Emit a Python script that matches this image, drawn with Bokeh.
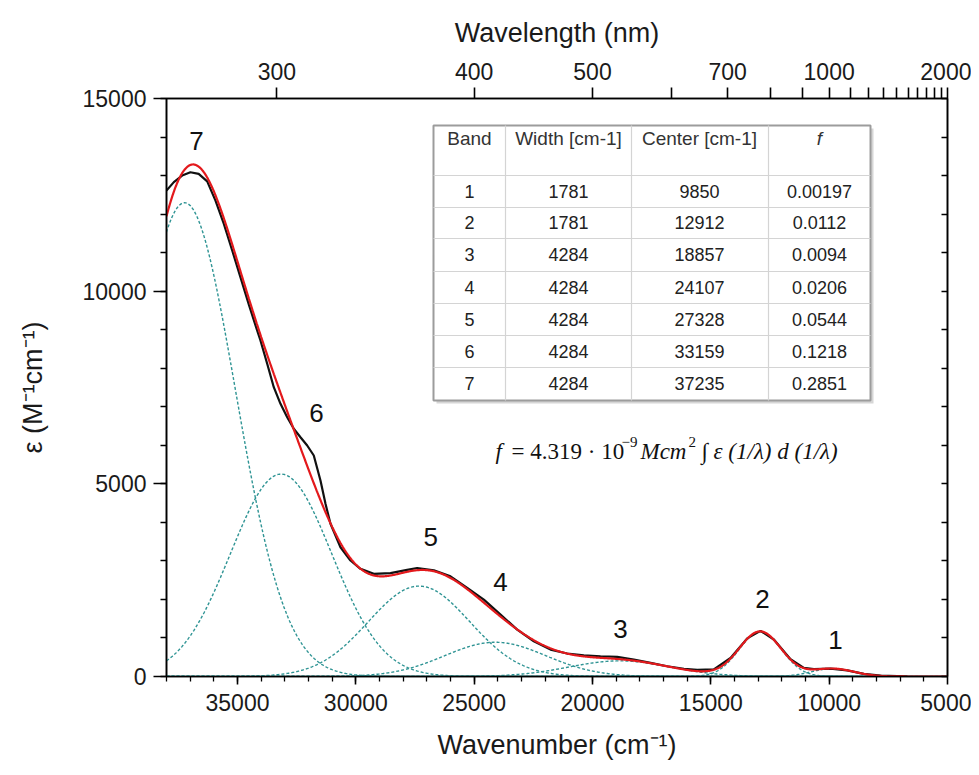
import numpy as np
from bokeh.plotting import figure
from bokeh.models import Range1d, LinearAxis, FixedTicker, Label
from bokeh.embed import file_html
from bokeh.resources import INLINE
from bokeh.core.properties import value

# ---------------- data ----------------
band_no = [1, 2, 3, 4, 5, 6, 7]
band_width = [1781, 1781, 4284, 4284, 4284, 4284, 4284]
band_center = [9850, 12912, 18857, 24107, 27328, 33159, 37235]
band_f = [0.00197, 0.0112, 0.0094, 0.0206, 0.0544, 0.1218, 0.2851]
band_f_text = ["0.00197", "0.0112", "0.0094", "0.0206", "0.0544", "0.1218", "0.2851"]
F_CONST = 4.319e-9  # f = 4.319e-9 * integral(eps d nu)

meas_wn = [38000, 37690, 37340, 36990, 36640, 36280, 35930, 35580, 35220, 34870,
           34520, 34170, 34030, 33745, 33467, 33183, 32900, 32622, 32339, 32055,
           31777, 31494, 31282, 31071, 30649, 30227, 29804, 29241, 28536, 27830,
           27408, 26704, 26000, 25293, 24592, 23886, 23182, 22479, 21774, 21070,
           20366, 19661, 18957, 18253, 17548, 16843, 16140, 15575, 14873, 14167,
           13462, 12900, 12338, 11633, 11070, 10648, 9942, 9236, 8535, 7828,
           7125, 6700]
meas_eps = [12610, 12830, 13000, 13087, 13045, 12850, 12350, 11750, 11050, 10350,
            9650, 8980, 8720, 8115, 7508, 7077, 6729, 6428, 6210, 5995,
            5735, 5086, 4482, 3963, 3355, 3010, 2795, 2665, 2681, 2769,
            2816, 2754, 2599, 2298, 1995, 1606, 1218, 915, 699, 596,
            552, 526, 510, 440, 355, 267, 199, 170, 185, 480,
            990, 1185, 960, 450, 225, 195, 205, 160, 69, 26,
            10, 0]

peak_labels = ["7", "6", "5", "4", "3", "2", "1"]
peak_label_wn = [36730, 31660, 26840, 23890, 18820, 12820, 9730]
peak_label_eps = [13900, 6840, 3630, 2440, 1220, 2000, 960]

x_ticks = [35000, 30000, 25000, 20000, 15000, 10000, 5000]
x_minor = list(range(6000, 38001, 1000))
y_ticks = [0, 5000, 10000, 15000]
y_minor = list(range(0, 15001, 1000))
nm_ticks = [300, 400, 500, 600, 700, 800, 900, 1000, 1100, 1200, 1300, 1400,
            1500, 1600, 1700, 1800, 1900, 2000]
nm_labeled = [300, 400, 500, 700, 1000, 2000]

X0, X1 = 38000, 5000
Y0, Y1 = 0, 15000

# ---------------- model components (from table) ----------------
wn = np.linspace(X0, X1, 1651)
components = []
for w, c, f in zip(band_width, band_center, band_f):
    area = f / F_CONST
    height = area / (w * np.sqrt(np.pi / 2))
    components.append(height * np.exp(-2 * ((wn - c) / w) ** 2))
fit = np.sum(components, axis=0)

# ---------------- figure ----------------
FL, FT, FW, FH = 166, 98, 781, 578  # frame placement in the picture (px)

def dx(px):
    return X0 + (px - FL) / FW * (X1 - X0)

def dy(py):
    return Y1 - (py - FT) / FH * (Y1 - Y0)

p = figure(frame_width=FW, frame_height=FH,
           x_range=Range1d(X0, X1), y_range=Range1d(Y0, Y1),
           output_backend="svg", toolbar_location=None,
           x_axis_location=None, y_axis_location=None,
           min_border_left=FL, min_border_top=FT,
           min_border_right=24, min_border_bottom=91)
p.grid.visible = False
p.outline_line_color = "black"
p.outline_line_width = 1.5
p.background_fill_color = "white"
p.border_fill_color = "white"

FONT = "Liberation Sans"

def style_axis(ax):
    ax.axis_line_color = "black"
    ax.axis_line_width = 1.6
    ax.major_tick_line_color = "black"
    ax.major_tick_line_width = 1.6
    ax.minor_tick_line_color = "black"
    ax.minor_tick_line_width = 1.3
    ax.major_label_text_font = FONT
    ax.major_label_text_font_size = "23px"
    ax.major_label_text_color = "#1a1a1a"
    ax.axis_label_text_font = FONT
    ax.axis_label_text_font_size = "27px"
    ax.axis_label_text_font_style = "normal"
    ax.axis_label_text_color = "#1a1a1a"

# bottom axis
xb = LinearAxis(ticker=FixedTicker(ticks=x_ticks, minor_ticks=x_minor),
                axis_label="Wavenumber (cm\u207b\u00b9)")
style_axis(xb)
xb.major_tick_out = 8
xb.major_tick_in = 0
xb.minor_tick_out = 5
xb.minor_tick_in = 0
xb.major_label_standoff = 9
xb.axis_label_standoff = 16
p.add_layout(xb, "below")

# left axis
yl = LinearAxis(ticker=FixedTicker(ticks=y_ticks, minor_ticks=y_minor),
                axis_label="\u03b5 (M\u207b\u00b9cm\u207b\u00b9)")
style_axis(yl)
yl.major_tick_out = 13
yl.major_tick_in = 0
yl.minor_tick_out = 6
yl.minor_tick_in = 0
yl.major_label_standoff = 7
yl.axis_label_standoff = 32
p.add_layout(yl, "left")

# top axis (wavelength)
top_pos = [int(round(1e7 / nm)) for nm in nm_ticks]
xt = LinearAxis(ticker=FixedTicker(ticks=top_pos, minor_ticks=[]),
                axis_label="Wavelength (nm)")
style_axis(xt)
xt.major_tick_out = 11
xt.major_tick_in = 0
xt.minor_tick_out = 0
xt.major_label_standoff = 8
xt.axis_label_standoff = 12
xt.major_label_overrides = {pos: (str(nm) if nm in nm_labeled else "")
                            for pos, nm in zip(top_pos, nm_ticks)}
p.add_layout(xt, "above")

# right axis (ticks only)
yr = LinearAxis(ticker=FixedTicker(ticks=y_minor, minor_ticks=[]))
style_axis(yr)
yr.major_tick_in = 6
yr.major_tick_out = 0
yr.minor_tick_in = 0
yr.minor_tick_out = 0
yr.major_label_overrides = {t: "" for t in y_minor}
yr.major_label_text_font_size = "1px"
p.add_layout(yr, "right")

# ---------------- curves ----------------
TEAL = "#2f9494"
for comp in components:
    p.line(wn, comp, line_color=TEAL, line_width=1.4, line_dash="3 2")
p.line(meas_wn, meas_eps, line_color="#111111", line_width=2.2)
p.line(wn, fit, line_color="#e3191c", line_width=2.2)

p.text(x=peak_label_wn, y=peak_label_eps, text=peak_labels,
       text_font=value(FONT), text_font_size="26px", text_color="#111111",
       text_align="center", text_baseline="middle")

# ---------------- table ----------------
TL, TR, TT, TB = 433, 870, 125, 400
p.quad(left=dx(TL + 3), right=dx(TR + 3), top=dy(TT + 3), bottom=dy(TB + 3),
       fill_color="#d6d6d6", line_color=None)
p.quad(left=dx(TL), right=dx(TR), top=dy(TT), bottom=dy(TB),
       fill_color="white", line_color="#9c9c9c", line_width=2)
row_lines = [175, 207, 238, 271, 303, 335, 367]
col_lines = [505, 631, 768]
p.segment(x0=[dx(TL)] * len(row_lines), x1=[dx(TR)] * len(row_lines),
          y0=[dy(r) for r in row_lines], y1=[dy(r) for r in row_lines],
          line_color="#d4d4d4", line_width=1.2)
p.segment(x0=[dx(c) for c in col_lines], x1=[dx(c) for c in col_lines],
          y0=[dy(TT)] * len(col_lines), y1=[dy(TB)] * len(col_lines),
          line_color="#d4d4d4", line_width=1.2)

col_centers = [469, 568, 699, 819]
headers = ["Band", "Width [cm-1]", "Center [cm-1]"]
p.text(x=[dx(c) for c in col_centers[:3]], y=[dy(138)] * 3, text=headers,
       text_font=value(FONT), text_font_size="19px", text_color="#333333",
       text_align="center", text_baseline="middle")
p.text(x=[dx(col_centers[3])], y=[dy(138)], text=["f"],
       text_font=value(FONT), text_font_size="19px", text_color="#333333",
       text_font_style="italic", text_align="center", text_baseline="middle")
row_centers = [191, 222, 254, 287, 319, 351, 383]
cols = [[str(b) for b in band_no], [str(w) for w in band_width],
        [str(c) for c in band_center], band_f_text]
for cx, col in zip(col_centers, cols):
    p.text(x=[dx(cx)] * len(col), y=[dy(r) for r in row_centers], text=col,
           text_font=value(FONT), text_font_size="18px", text_color="#222222",
           text_align="center", text_baseline="middle")

# ---------------- formula ----------------
SERIF = "Liberation Serif"
def add_label(px, py, txt, size, style="normal"):
    p.add_layout(Label(x=dx(px), y=dy(py), text=txt, text_font=SERIF,
                       text_font_size=size, text_font_style=style,
                       text_color="#111111", text_baseline="middle",
                       text_align="left"))

add_label(495, 451, "f", "23px", "italic")
add_label(511, 451, "= 4.319 \u00b7 10", "23px")
add_label(621, 441, "\u22129", "15px")
add_label(640, 451, "Mcm", "23px", "italic")
add_label(688, 441, "2", "15px")
add_label(701, 451, "\u222b \u03b5 (1/\u03bb) d (1/\u03bb)", "23px", "italic")

open("out.html", "w").write(file_html(p, INLINE))
